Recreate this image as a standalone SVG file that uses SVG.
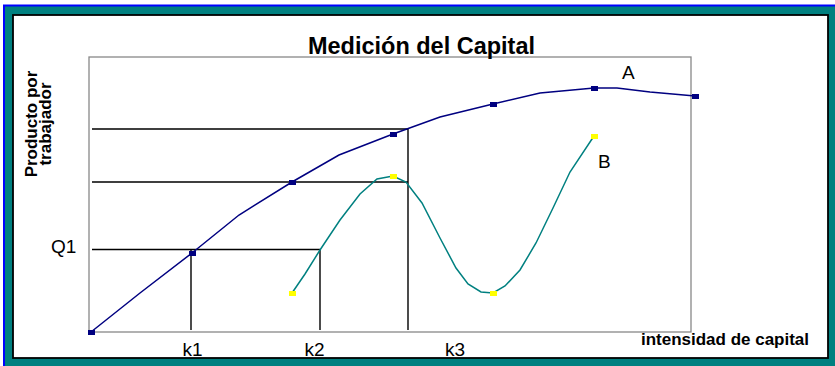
<svg xmlns="http://www.w3.org/2000/svg" width="835" height="366" viewBox="0 0 835 366">
<style>
.t{font-family:"Liberation Sans",Arial,sans-serif;fill:#000}
.b{font-weight:bold}
.lbl{font-size:19px}
.guide{stroke:#000;stroke-width:1.4;fill:none}
.ma{fill:#000080}
.mb{fill:#ffff00}
</style>
<rect x="0" y="0" width="835" height="366" fill="#fff"/>
<g id="frame">
<rect x="4" y="5.5" width="840" height="370" fill="#008080" stroke="#0000ff" stroke-width="2"/>
<rect x="13" y="15" width="815" height="343" fill="#fff" stroke="#000" stroke-width="1.8"/>
</g>
<g id="plot-area">
<rect x="89" y="57" width="602" height="275" fill="#fff" stroke="#888" stroke-width="1.3"/>
</g>
<g id="connectors">
<path class="guide" d="M92 129H408M92 182H408M92 249.5H320M191 249.5V330M320 249.5V330M408 129V330"/>
</g>
<g id="curve-a">
<polyline fill="none" stroke="#000080" stroke-width="1.5" points="91,332 140,293 192,253 239,215 292,182 339,155 393,134 440,117 493,104 540,93 594,88 617,88 650,92 695,96"/>
<rect class="ma" x="88" y="330" width="7" height="5"/>
<rect class="ma" x="189" y="251" width="7" height="5"/>
<rect class="ma" x="289" y="180" width="7" height="5"/>
<rect class="ma" x="390" y="132" width="7" height="5"/>
<rect class="ma" x="490" y="102" width="7" height="5"/>
<rect class="ma" x="591" y="86" width="7" height="5"/>
<rect class="ma" x="692" y="94" width="7" height="5"/>
</g>
<g id="curve-b">
<polyline fill="none" stroke="#008080" stroke-width="1.5" points="292,293 305,274 320,250 340,220 360,194 377,179 393,176 406,182 422,203 440,238 456,268 468,284 481,292 493,293 505,286 520,270 536,243 553,208 570,172 594,136"/>
<rect class="mb" x="289" y="291" width="7" height="5"/>
<rect class="mb" x="390" y="174" width="7" height="5"/>
<rect class="mb" x="490" y="291" width="7" height="5"/>
<rect class="mb" x="591" y="134" width="7" height="5"/>
</g>
<g id="title">
<text class="t b" x="421.5" y="54" font-size="23.5" text-anchor="middle" textLength="227" lengthAdjust="spacingAndGlyphs">Medición del Capital</text>
</g>
<g id="y-label">
<text class="t b" font-size="17" text-anchor="middle" transform="translate(36.5,124) rotate(-90)"><tspan x="0" y="0">Producto por</tspan><tspan x="0" y="14">trabajador</tspan></text>
</g>
<g id="x-label">
<text class="t b" x="641" y="344.5" font-size="16" textLength="168" lengthAdjust="spacingAndGlyphs">intensidad de capital</text>
</g>
<g id="labels">
<text class="t lbl" x="622" y="79">A</text>
<text class="t lbl" x="598" y="168">B</text>
<text class="t lbl" x="51" y="253">Q1</text>
<text class="t lbl" x="182.5" y="356">k1</text>
<text class="t lbl" x="304.5" y="356">k2</text>
<text class="t lbl" x="445" y="356">k3</text>
</g>
</svg>
